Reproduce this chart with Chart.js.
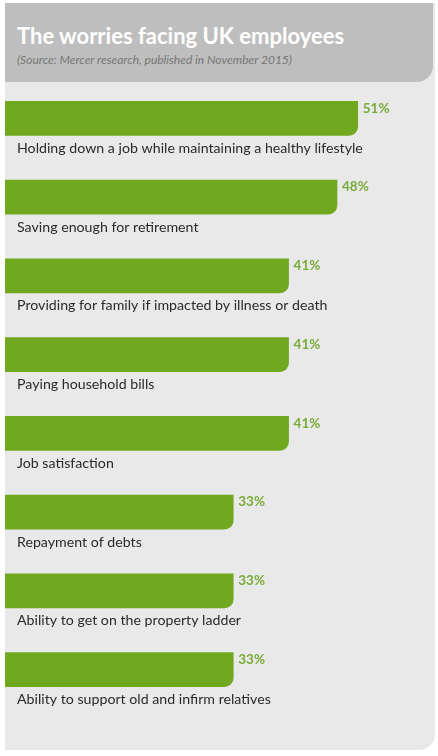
<!DOCTYPE html>
<html>
<head>
<meta charset="utf-8">
<script src="https://cdn.jsdelivr.net/npm/chart.js@4"></script>
<style>
  html, body { margin:0; padding:0; background:#ffffff; }
  #wrap { position:relative; width:438px; height:756px; overflow:hidden; }
  #panel { position:absolute; left:5px; top:3px; width:430px; height:747px; background:#e9e9e9; border-bottom-right-radius:16px; }
  #header { position:absolute; left:5px; top:3px; width:428px; height:79px; background:#bebebe; border-bottom-right-radius:16px; }
  #title { position:absolute; left:17px; top:23px; font-family:Lato, sans-serif; font-weight:bold; font-size:22px; line-height:26px; color:#ffffff; white-space:nowrap; }
  #subtitle { position:absolute; left:17px; top:53px; font-family:Lato, sans-serif; font-style:italic; font-size:12px; line-height:14px; color:#777777; white-space:nowrap; }
  #cv { position:absolute; left:0; top:0; width:438px; height:756px; }
</style>
</head>
<body>
<div id="wrap">
  <div id="panel"></div>
  <div id="header"></div>
  <div id="title">The worries facing UK employees</div>
  <div id="subtitle">(Source: Mercer research, published in November 2015)</div>
  <div id="cv"><canvas id="chart"></canvas></div>
</div>
<script>
const categories = [
  "Holding down a job while maintaining a healthy lifestyle",
  "Saving enough for retirement",
  "Providing for family if impacted by illness or death",
  "Paying household bills",
  "Job satisfaction",
  "Repayment of debts",
  "Ability to get on the property ladder",
  "Ability to support old and infirm relatives"
];
const values = [51, 48, 41, 41, 41, 33, 33, 33];
const valueLabels = ["51%", "48%", "41%", "41%", "41%", "33%", "33%", "33%"];

const valueLabelPlugin = {
  id: 'valueLabels',
  afterDatasetsDraw(chart) {
    const ctx = chart.ctx;
    const meta = chart.getDatasetMeta(0);
    ctx.save();
    ctx.font = 'bold 13.5px Lato, sans-serif';
    ctx.fillStyle = '#78ab38';
    ctx.textAlign = 'left';
    ctx.textBaseline = 'middle';
    meta.data.forEach((bar, i) => {
      const top = bar.y - bar.height / 2;
      ctx.fillText(valueLabels[i], bar.x + 5, top + 7);
    });
    ctx.restore();
  }
};

new Chart(document.getElementById('chart'), {
  type: 'bar',
  data: {
    labels: categories,
    datasets: [{
      data: values,
      backgroundColor: '#70a81f',
      barThickness: 34,
      borderRadius: { topLeft: 0, topRight: 0, bottomLeft: 0, bottomRight: 9 },
      borderSkipped: 'start'
    }]
  },
  options: {
    indexAxis: 'y',
    responsive: true,
    maintainAspectRatio: false,
    animation: false,
    layout: { padding: { left: 5, right: 18, top: 79, bottom: 47 } },
    plugins: { legend: { display: false }, tooltip: { enabled: false }, title: { display: false } },
    scales: {
      x: { display: false, min: 0, max: 60 },
      y: {
        display: true,
        afterFit(scale) { scale.width = 0; },
        grid: { display: false, drawTicks: false },
        border: { display: false },
        ticks: {
          mirror: true,
          padding: 12,
          labelOffset: 30,
          autoSkip: false,
          color: '#2a2a2a',
          font: { family: 'Lato, sans-serif', size: 14.2 }
        }
      }
    }
  },
  plugins: [valueLabelPlugin]
});
</script>
</body>
</html>
